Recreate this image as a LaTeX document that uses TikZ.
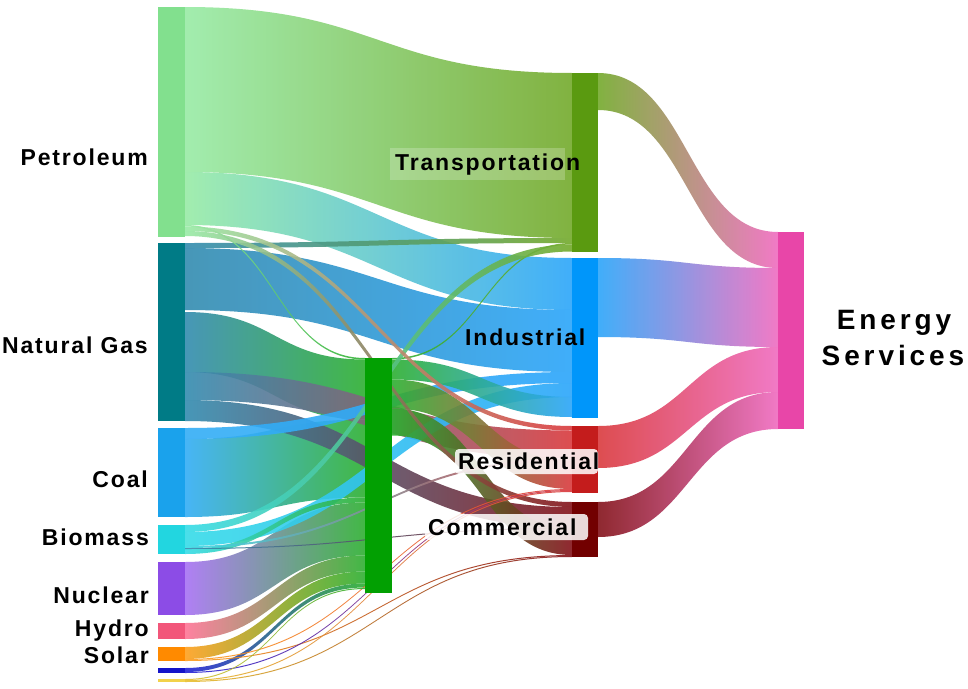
\documentclass[tikz,border=0pt]{standalone}
\usepackage{fontspec}
\newfontfamily\lblfont{Liberation Sans}[LetterSpace=8]
\newfontfamily\esfont{Liberation Sans}[LetterSpace=14]
\definecolor{petN}{HTML}{82E08E}
\definecolor{petS}{HTML}{98EBA6}
\definecolor{ngN}{HTML}{007B86}
\definecolor{ngS}{HTML}{348CB0}
\definecolor{coalN}{HTML}{1AA2EC}
\definecolor{coalS}{HTML}{34AEF6}
\definecolor{bioN}{HTML}{22D6E0}
\definecolor{bioS}{HTML}{36DCE8}
\definecolor{nucN}{HTML}{8C4CE6}
\definecolor{nucS}{HTML}{A872F4}
\definecolor{hydN}{HTML}{F2567A}
\definecolor{hydS}{HTML}{FF7496}
\definecolor{solN}{HTML}{FF8A00}
\definecolor{solS}{HTML}{FFA020}
\definecolor{windN}{HTML}{1414C8}
\definecolor{windS}{HTML}{2424D8}
\definecolor{geoN}{HTML}{F2D24A}
\definecolor{geoS}{HTML}{E8C030}
\definecolor{elecN}{HTML}{02A002}
\definecolor{elecF}{HTML}{2EB032}
\definecolor{trnN}{HTML}{5A9A10}
\definecolor{trnF}{HTML}{74AA2C}
\definecolor{indN}{HTML}{0096FA}
\definecolor{indF}{HTML}{2CA6FA}
\definecolor{resN}{HTML}{C41C1C}
\definecolor{resF}{HTML}{DA3A3E}
\definecolor{comN}{HTML}{720000}
\definecolor{comF}{HTML}{84121A}
\definecolor{esN}{HTML}{E846A8}
\definecolor{esF}{HTML}{F06CC0}
\tikzset{
  flowsty/.style={fill opacity=0.9, draw=none},
  bar/.style={rectangle, inner sep=0pt, draw=none},
  lbl/.style={font=\lblfont\bfseries\fontsize{23}{27}\selectfont, inner sep=0pt, text=black},
  eslbl/.style={font=\esfont\bfseries\fontsize{28}{32}\selectfont, inner sep=0pt, text=black},
  lblbox/.style={fill=white, fill opacity=0.85, rounded corners=4pt, draw=none}
}
% flow: x0, y0top, y0bot, x1, y1top, y1bot, colour at start, colour at end
\newcommand{\flow}[8]{%
  \pgfmathsetmacro{\xm}{(#1+#4)/2}%
  \path[flowsty, left color=#7, right color=#8]
    (#1,#2) .. controls (\xm,#2) and (\xm,#5) .. (#4,#5) -- (#4,#6)
    .. controls (\xm,#6) and (\xm,#3) .. (#1,#3) -- cycle;}
% bar node: name, colour, x0, y0, x1, y1
\newcommand{\barnode}[6]{%
  \pgfmathsetmacro{\bw}{#5-#3}\pgfmathsetmacro{\bh}{#6-#4}%
  \node[bar, fill=#2, minimum width=\bw pt, minimum height=\bh pt] (#1)
    at ({(#3+#5)/2},{(#4+#6)/2}) {};}
\begin{document}
\begin{tikzpicture}[x=1pt,y=-1pt]
\useasboundingbox (0,0) rectangle (968,688);
\fill[white] (0,0) rectangle (968,688);
% ---------- large flows ----------
\flow{185}{7}{172}{572}{73}{238}{petS}{trnF}
\flow{185}{172}{225}{572}{258}{310}{petS}{indF}
\flow{185}{248}{310}{572}{310}{372}{ngS}{indF}
\flow{185}{312}{372}{365}{359.5}{419.5}{ngS}{elecF}
\flow{185}{439}{517}{365}{419.5}{497.5}{coalS}{elecF}
\flow{185}{562}{615}{365}{502.5}{555.5}{nucS}{elecF}
\flow{185}{623}{639}{365}{555.5}{571.5}{hydS}{elecF}
\flow{185}{647}{659}{365}{571.5}{583.5}{solS}{elecF}
\flow{185}{668}{672}{365}{583.5}{587.5}{windS}{elecF}
% ---------- crossing flows ----------
\flow{185}{372}{400}{572}{430.5}{458.5}{ngS}{resF}
\flow{185}{400}{421}{572}{507}{528}{ngS}{comF}
\flow{185}{428}{439}{572}{372}{383}{coalS}{indF}
\flow{185}{532}{546}{572}{383}{397}{bioS}{indF}
\flow{185}{549}{554}{365}{497.5}{502.5}{bioS}{elecF}
% ---------- electricity out ----------
\flow{392}{359.5}{379.5}{572}{397}{417}{elecF}{indF}
\flow{392}{379.5}{408.5}{572}{460.5}{489}{elecF}{resF}
\flow{392}{408.5}{435.5}{572}{529}{555}{elecF}{comF}
\flow{392}{358}{359.5}{572}{243}{244.5}{elecF}{trnF}
% ---------- small flows on top ----------
\flow{185}{243}{248}{572}{238}{243}{ngS}{trnF}
\flow{185}{525}{532}{572}{244.5}{251.5}{bioS}{trnF}
\flow{185}{225}{226.5}{365}{358}{359.5}{petS}{elecF}
\flow{185}{226.5}{231}{572}{426}{430.5}{petS}{resF}
\flow{185}{231}{236}{572}{502}{507}{petS}{comF}
% ---------- thin lines ----------
\flow{185}{546}{548}{572}{458.5}{460.5}{bioS}{resF}
\flow{185}{548}{549}{572}{528}{529}{ngS}{comF}
\flow{185}{659}{660}{572}{489}{490}{solS}{resF}
\flow{185}{660}{661}{572}{555}{556}{solS}{comF}
\flow{185}{672}{673}{572}{490}{491}{windS}{resF}
\flow{185}{679}{680}{365}{588}{589}{geoS}{elecF}
\flow{185}{680}{681}{572}{491}{492}{geoS}{resF}
\flow{185}{681}{682}{572}{556}{557}{geoS}{comF}
% ---------- to energy services ----------
\flow{598}{73}{110}{778}{232}{268}{trnF}{esF}
\flow{598}{258}{337}{778}{268}{347}{indF}{esF}
\flow{598}{426}{468}{778}{347}{392}{resF}{esF}
\flow{598}{502}{537}{778}{392}{429}{comF}{esF}
% ---------- nodes ----------
\barnode{pet}{petN}{158}{7}{185}{237}
\barnode{ng}{ngN}{158}{243}{185}{421}
\barnode{coal}{coalN}{158}{428}{185}{517}
\barnode{bio}{bioN}{158}{525}{185}{554}
\barnode{nuc}{nucN}{158}{562}{185}{615}
\barnode{hyd}{hydN}{158}{623}{185}{639}
\barnode{sol}{solN}{158}{647}{185}{661}
\barnode{wind}{windN}{158}{668}{185}{673}
\barnode{geo}{geoN}{158}{679}{185}{681.5}
\barnode{elec}{elecN}{365}{358}{392}{593}
\barnode{trn}{trnN}{572}{73}{598}{252}
\barnode{ind}{indN}{572}{258}{598}{418}
\barnode{res}{resN}{572}{426}{598}{493}
\barnode{com}{comN}{572}{502}{598}{557}
\barnode{es}{esN}{778}{232}{804}{429}
% ---------- labels ----------
\node[lbl, anchor=base east] (lpet) at (148,165) {Petroleum};
\node[lbl, anchor=base east] (lng) at (148,353) {Natural Gas};
\node[lbl, anchor=base east] (lcoal) at (148,487) {Coal};
\node[lbl, anchor=base east] (lbio) at (149,545) {Biomass};
\node[lbl, anchor=base east] (lnuc) at (149,603) {Nuclear};
\node[lbl, anchor=base east] (lhyd) at (149,636) {Hydro};
\node[lbl, anchor=base east] (lsol) at (149,663) {Solar};
\fill[white, fill opacity=0.22] (390,148) rectangle (565,180);
\node[lbl, anchor=base west] (ltrn) at (395,170) {Transportation};
\node[lbl, anchor=base west] (lind) at (465,345) {Industrial};
\fill[lblbox] (455,449) rectangle (598,474);
\node[lbl, anchor=base west] (lres) at (458,469) {Residential};
\fill[lblbox] (425,514) rectangle (588,540);
\node[lbl, anchor=base west] (lcom) at (428,535) {Commercial};
\node[eslbl, anchor=base] (les1) at (894,329) {Energy};
\node[eslbl, anchor=base] (les2) at (893,365) {Services};
\end{tikzpicture}
\end{document}
